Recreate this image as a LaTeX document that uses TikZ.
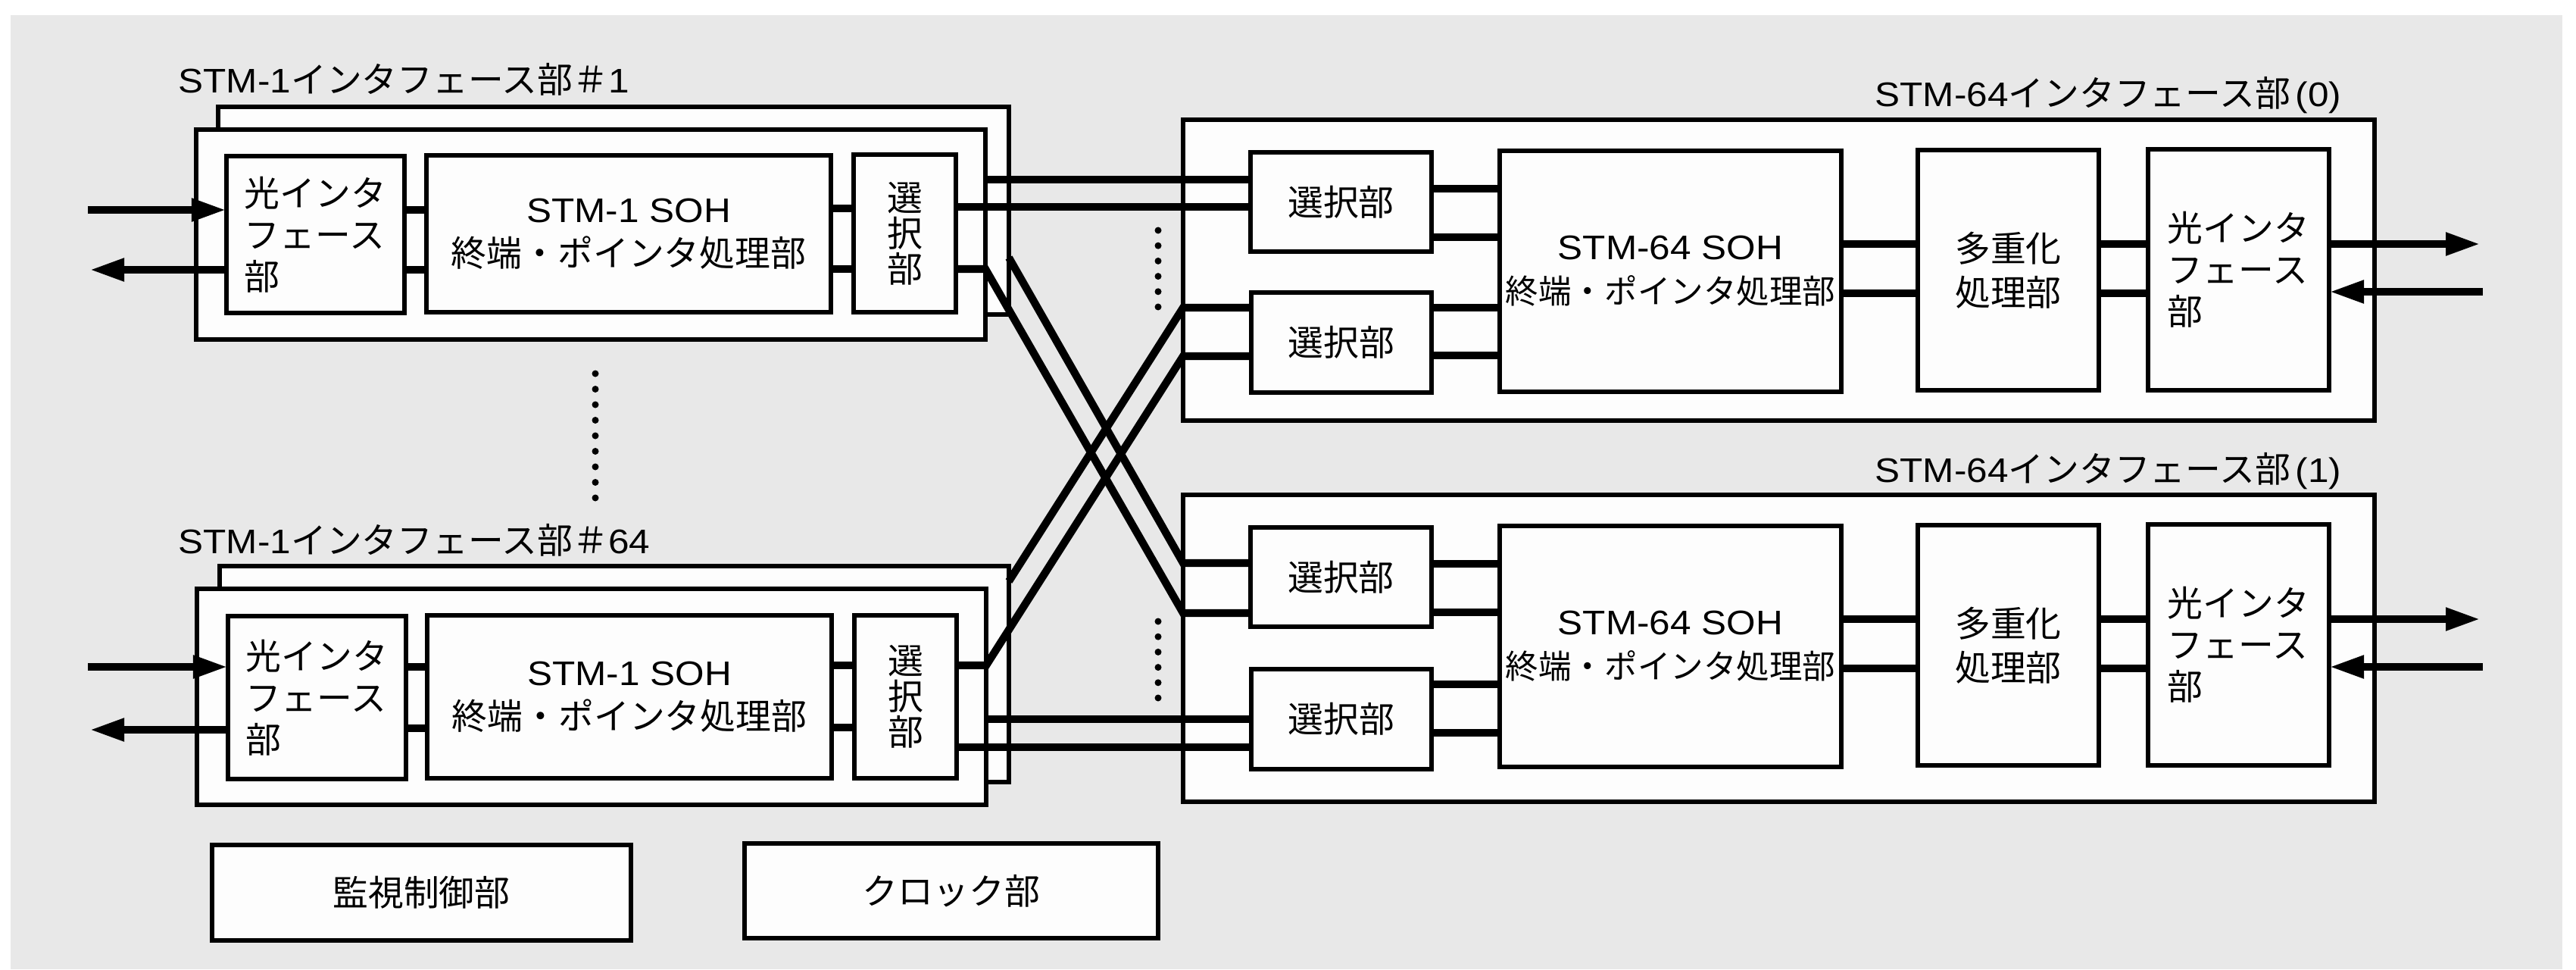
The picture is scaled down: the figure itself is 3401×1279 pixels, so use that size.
\documentclass[tikz,border=0pt]{standalone}
\usepackage{fontspec}
\setmainfont{Liberation Sans}[FakeStretch=1.1]
\newfontfamily\jp{Noto Sans CJK JP}[Scale=1.04]
\usetikzlibrary{arrows.meta}
\definecolor{bggray}{RGB}{232,232,232}
\definecolor{boxfill}{RGB}{253,253,253}
\newcommand\boxat[7]{\node[#2, anchor=north west, minimum width={(#5-#3)*0.01cm}, minimum height={(#6-#4)*0.01cm}] (#1) at (#3,#4) {#7};}
\tikzset{
  blk/.style={draw=black, line width=1.5pt, fill=boxfill, inner sep=0pt, outer sep=0pt, align=center, font=\fontsize{12.8pt}{16.5pt}\selectfont},
  jpblk/.style={blk, font=\fontsize{12.8pt}{16.5pt}\selectfont\jp},
  ifbox/.style={blk, align=left, font=\fontsize{12.8pt}{15.6pt}\selectfont\jp},
  vbox/.style={blk, font=\fontsize{12.8pt}{13.4pt}\selectfont\jp},
  cardframe/.style={draw=black, line width=1.5pt, fill=boxfill, inner sep=0pt, outer sep=0pt},
  sig/.style={line width=2.9pt},
  arr/.style={line width=3pt, -{Triangle[length=0.46cm,width=0.28cm]}},
  lbl/.style={inner sep=0pt, font=\fontsize{12.8pt}{15pt}\selectfont},
}
\begin{document}
\begin{tikzpicture}[x=0.01cm,y=-0.01cm]
\useasboundingbox (0,0) rectangle (3401,1279);
\fill[white] (0,0) rectangle (3401,1279);
\fill[bggray] (14,20) rectangle (3383,1279);

% ---------- STM-1 interface #1 ----------
\node[lbl, anchor=base west] (m1lbl) at (235,123) {STM-1{\jp インタフェース部＃}1};
\boxat{m1back}{cardframe}{288}{141}{1332}{415}{}
\boxat{m1front}{cardframe}{259}{171}{1301}{448}{}
\boxat{m1oif}{ifbox}{299}{206}{534}{413}{光インタ\\フェース\\部}
\boxat{m1soh}{blk}{563}{205}{1097}{412}{STM-1 SOH\\{\jp 終端・ポインタ処理部}}
\boxat{m1sel}{vbox}{1127}{204}{1262}{412}{選\\択\\部}

% ---------- STM-1 interface #64 ----------
\node[lbl, anchor=base west] (mnlbl) at (235,730) {STM-1{\jp インタフェース部＃}64};
\boxat{mnback}{cardframe}{290}{747}{1332}{1032}{}
\boxat{mnfront}{cardframe}{260}{777}{1302}{1062}{}
\boxat{mnoif}{ifbox}{301}{813}{536}{1028}{光インタ\\フェース\\部}
\boxat{mnsoh}{blk}{564}{812}{1098}{1027}{STM-1 SOH\\{\jp 終端・ポインタ処理部}}
\boxat{mnsel}{vbox}{1128}{812}{1263}{1027}{選\\択\\部}

% ---------- STM-64 interface (0) ----------
\node[lbl, anchor=base east] (r0lbl) at (3092,140) {STM-64{\jp インタフェース部}\kern2pt(0)};
\boxat{r0}{cardframe}{1562}{158}{3135}{555}{}
\boxat{r0selA}{jpblk}{1651}{201}{1890}{332}{選択部}
\boxat{r0selB}{jpblk}{1652}{386}{1890}{518}{選択部}
\boxat{r0soh}{blk}{1980}{199}{2431}{517}{STM-64 SOH\\{\fontsize{11.9pt}{16.5pt}\selectfont\jp 終端・ポインタ処理部}}
\boxat{r0mux}{jpblk}{2532}{198}{2771}{515}{多重化\\処理部}
\boxat{r0oif}{ifbox}{2836}{197}{3075}{515}{光インタ\\フェース\\部}

% ---------- STM-64 interface (1) ----------
\node[lbl, anchor=base east] (r1lbl) at (3092,636) {STM-64{\jp インタフェース部}\kern2pt(1)};
\boxat{r1}{cardframe}{1562}{653}{3135}{1058}{}
\boxat{r1selA}{jpblk}{1651}{696}{1890}{827}{選択部}
\boxat{r1selB}{jpblk}{1652}{883}{1890}{1015}{選択部}
\boxat{r1soh}{blk}{1980}{694}{2431}{1012}{STM-64 SOH\\{\fontsize{11.9pt}{16.5pt}\selectfont\jp 終端・ポインタ処理部}}
\boxat{r1mux}{jpblk}{2532}{693}{2771}{1010}{多重化\\処理部}
\boxat{r1oif}{ifbox}{2836}{692}{3075}{1010}{光インタ\\フェース\\部}

% ---------- bottom boxes ----------
\boxat{mon}{jpblk}{280}{1115}{833}{1241}{監視制御部}
\boxat{clk}{jpblk}{983}{1113}{1529}{1238}{クロック部}

% ---------- free ends ----------
\coordinate (m1in) at (116,277);
\coordinate (m1out) at (118,356);
\coordinate (mnin) at (116,880);
\coordinate (mnout) at (118,963);
\coordinate (r0out) at (3275,322);
\coordinate (r0in) at (3278,385);
\coordinate (r1out) at (3275,817);
\coordinate (r1in) at (3278,880);

% ---------- STM-1 #1 connections ----------
\draw[arr] (m1in) -- (m1oif.west |- 0,277);
\draw[arr] (m1oif.west |- 0,356) -- (m1out);
\draw[sig] (m1oif.east |- 0,277) -- (m1soh.west |- 0,277);
\draw[sig] (m1oif.east |- 0,356) -- (m1soh.west |- 0,356);
\draw[sig] (m1soh.east |- 0,275) -- (m1sel.west |- 0,275);
\draw[sig] (m1soh.east |- 0,355) -- (m1sel.west |- 0,355);
\draw[sig] (m1front.east |- 0,237) -- (r0selA.west |- 0,237);
\draw[sig] (m1sel.east |- 0,273) -- (r0selA.west |- 0,273);
\draw[sig] (m1sel.east |- 0,355) -- (m1front.east |- 0,355) -- (r1.west |- 0,809) -- (r1selA.west |- 0,809);
\draw[sig] (m1back.east |- 0,340) -- (r1.west |- 0,743) -- (r1selA.west |- 0,743);

% ---------- STM-1 #64 connections ----------
\draw[arr] (mnin) -- (mnoif.west |- 0,880);
\draw[arr] (mnoif.west |- 0,963) -- (mnout);
\draw[sig] (mnoif.east |- 0,880) -- (mnsoh.west |- 0,880);
\draw[sig] (mnoif.east |- 0,961) -- (mnsoh.west |- 0,961);
\draw[sig] (mnsoh.east |- 0,878) -- (mnsel.west |- 0,878);
\draw[sig] (mnsoh.east |- 0,960) -- (mnsel.west |- 0,960);
\draw[sig] (mnsel.east |- 0,878) -- (mnfront.east |- 0,878) -- (r0.west |- 0,470) -- (r0selB.west |- 0,470);
\draw[sig] (mnback.east |- 0,767) -- (r0.west |- 0,406) -- (r0selB.west |- 0,406);
\draw[sig] (mnfront.east |- 0,949) -- (r1selB.west |- 0,949);
\draw[sig] (mnsel.east |- 0,986) -- (r1selB.west |- 0,986);

% ---------- STM-64 (0) connections ----------
\draw[sig] (r0selA.east |- 0,249) -- (r0soh.west |- 0,249);
\draw[sig] (r0selA.east |- 0,313) -- (r0soh.west |- 0,313);
\draw[sig] (r0selB.east |- 0,406) -- (r0soh.west |- 0,406);
\draw[sig] (r0selB.east |- 0,469) -- (r0soh.west |- 0,469);
\draw[sig] (r0soh.east |- 0,322) -- (r0mux.west |- 0,322);
\draw[sig] (r0soh.east |- 0,387) -- (r0mux.west |- 0,387);
\draw[sig] (r0mux.east |- 0,322) -- (r0oif.west |- 0,322);
\draw[sig] (r0mux.east |- 0,387) -- (r0oif.west |- 0,387);
\draw[arr] (r0oif.east |- 0,322) -- (r0out);
\draw[arr] (r0in) -- (r0oif.east |- 0,385);

% ---------- STM-64 (1) connections ----------
\draw[sig] (r1selA.east |- 0,744) -- (r1soh.west |- 0,744);
\draw[sig] (r1selA.east |- 0,808) -- (r1soh.west |- 0,808);
\draw[sig] (r1selB.east |- 0,903) -- (r1soh.west |- 0,903);
\draw[sig] (r1selB.east |- 0,967) -- (r1soh.west |- 0,967);
\draw[sig] (r1soh.east |- 0,817) -- (r1mux.west |- 0,817);
\draw[sig] (r1soh.east |- 0,882) -- (r1mux.west |- 0,882);
\draw[sig] (r1mux.east |- 0,817) -- (r1oif.west |- 0,817);
\draw[sig] (r1mux.east |- 0,882) -- (r1oif.west |- 0,882);
\draw[arr] (r1oif.east |- 0,817) -- (r1out);
\draw[arr] (r1in) -- (r1oif.east |- 0,880);

% ---------- dots ----------
\foreach \i in {0,...,8} \fill (786,493+20.5*\i) circle (0.045cm);
\foreach \i in {0,...,5} \fill (1529,304+20.2*\i) circle (0.045cm);
\foreach \i in {0,...,5} \fill (1529,820+20.2*\i) circle (0.045cm);
\end{tikzpicture}
\end{document}
